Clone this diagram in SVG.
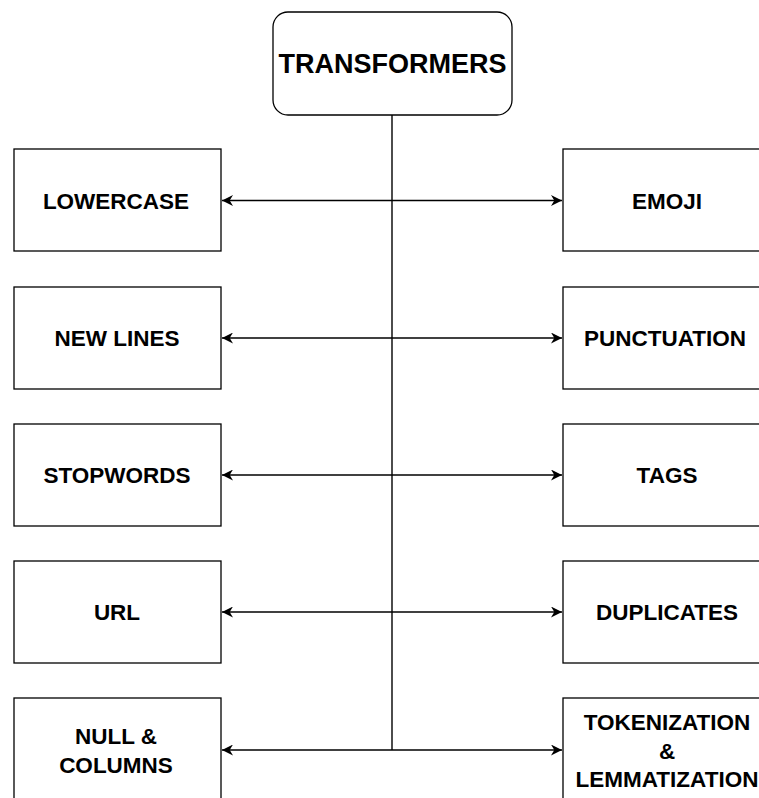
<svg xmlns="http://www.w3.org/2000/svg" width="759" height="798" viewBox="0 0 759 798">
<defs>
<style>
.box{fill:#fff;stroke:#000;stroke-width:1.3}
.t{font-family:"Liberation Sans",Arial,sans-serif;font-weight:bold;font-size:22.5px;fill:#000;text-anchor:middle}
.c{stroke:#000;stroke-width:1.4;fill:none}
</style>
<marker id="ah" viewBox="0 0 10 10" refX="10" refY="5" markerWidth="11" markerHeight="11" markerUnits="userSpaceOnUse" orient="auto-start-reverse">
<path d="M0,0 L10,5 L0,10 L3,5 Z" fill="#000"/>
</marker>
</defs>
<rect width="759" height="798" fill="#fff"/>
<g id="connectors">
<line class="c" x1="392" y1="115" x2="392" y2="750"/>
<line class="c" x1="222" y1="200.5" x2="562" y2="200.5" marker-start="url(#ah)" marker-end="url(#ah)"/>
<line class="c" x1="222" y1="338" x2="562" y2="338" marker-start="url(#ah)" marker-end="url(#ah)"/>
<line class="c" x1="222" y1="475" x2="562" y2="475" marker-start="url(#ah)" marker-end="url(#ah)"/>
<line class="c" x1="222" y1="612" x2="562" y2="612" marker-start="url(#ah)" marker-end="url(#ah)"/>
<line class="c" x1="222" y1="750" x2="562" y2="750" marker-start="url(#ah)" marker-end="url(#ah)"/>
</g>
<g id="transformers">
<rect class="box" x="273" y="12" width="239" height="103" rx="15" ry="15"/>
<text class="t" x="392.5" y="73" style="font-size:27px">TRANSFORMERS</text>
</g>
<g id="lowercase">
<rect class="box" x="14" y="149" width="207" height="102"/>
<text class="t" x="116" y="209">LOWERCASE</text>
</g>
<g id="emoji">
<rect class="box" x="563" y="149" width="207" height="102"/>
<text class="t" x="667" y="209">EMOJI</text>
</g>
<g id="newlines">
<rect class="box" x="14" y="287" width="207" height="102"/>
<text class="t" x="117" y="346">NEW LINES</text>
</g>
<g id="punctuation">
<rect class="box" x="563" y="287" width="207" height="102"/>
<text class="t" x="665" y="346">PUNCTUATION</text>
</g>
<g id="stopwords">
<rect class="box" x="14" y="424" width="207" height="102"/>
<text class="t" x="117" y="483">STOPWORDS</text>
</g>
<g id="tags">
<rect class="box" x="563" y="424" width="207" height="102"/>
<text class="t" x="667" y="483">TAGS</text>
</g>
<g id="url">
<rect class="box" x="14" y="561" width="207" height="102"/>
<text class="t" x="117" y="620">URL</text>
</g>
<g id="duplicates">
<rect class="box" x="563" y="561" width="207" height="102"/>
<text class="t" x="667" y="620">DUPLICATES</text>
</g>
<g id="nullcolumns">
<rect class="box" x="14" y="698" width="207" height="102"/>
<text class="t" x="116" y="744">NULL &amp;</text>
<text class="t" x="116" y="773">COLUMNS</text>
</g>
<g id="tokenization">
<rect class="box" x="563" y="698" width="207" height="102"/>
<text class="t" x="667" y="730">TOKENIZATION</text>
<text class="t" x="667" y="759">&amp;</text>
<text class="t" x="667" y="787">LEMMATIZATION</text>
</g>
</svg>
